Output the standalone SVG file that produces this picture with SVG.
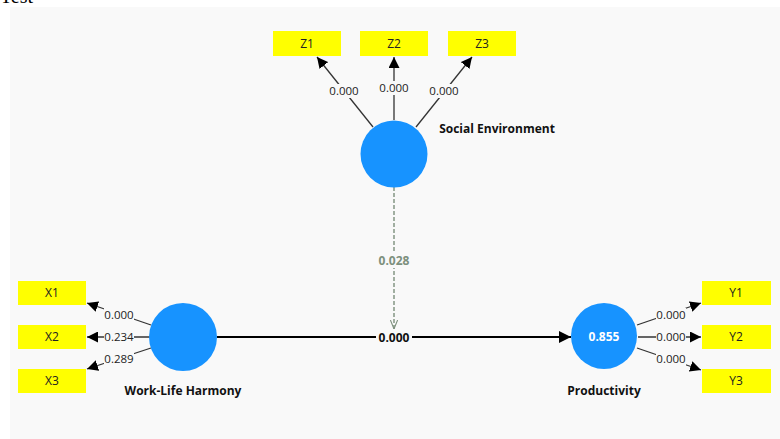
<svg xmlns="http://www.w3.org/2000/svg" width="780" height="439" viewBox="0 0 780 439">
<defs>
<marker id="ah" viewBox="0 0 10 10" refX="10" refY="5" markerWidth="11" markerHeight="11" markerUnits="userSpaceOnUse" orient="auto"><path d="M0,0 L10,5 L0,10 z" fill="#000"/></marker>
<marker id="ahl" viewBox="0 0 10 10" refX="10" refY="5" markerWidth="12" markerHeight="12" markerUnits="userSpaceOnUse" orient="auto"><path d="M0,0 L10,5 L0,10 z" fill="#000"/></marker>
<marker id="ahd" viewBox="0 0 10 10" refX="10" refY="5" markerWidth="9" markerHeight="9" markerUnits="userSpaceOnUse" orient="auto"><path d="M0,1 L10,5 L0,9" fill="none" stroke="#7d907d" stroke-width="1.2"/></marker>
</defs>
<style>
.ind rect{fill:#ffff00}
.ind text{font-family:"Open Sans","Noto Sans",sans-serif;font-size:12px;fill:#222;text-anchor:middle}
.lv circle{fill:#1793ff}
.lbl{font-family:"Open Sans","Noto Sans",sans-serif;font-size:12px;font-weight:bold;fill:#111;text-anchor:middle}
.w{font-family:"Open Sans","Noto Sans",sans-serif;font-size:11.5px;fill:#222;text-anchor:middle}
.ld{stroke:#333;stroke-width:1.3;fill:none;marker-end:url(#ah)}
.bg{fill:#f9f9f9}
</style>
<text x="0" y="3" font-family="Liberation Serif,serif" font-size="20" fill="#000">Test</text>
<rect x="10" y="7" width="770" height="432" fill="#f9f9f9"/>

<g id="connectors">
<line class="ld" x1="373" y1="127" x2="317" y2="57"/>
<line class="ld" x1="394" y1="120" x2="394" y2="57"/>
<line class="ld" x1="416" y1="127" x2="472" y2="57"/>
<line class="ld" x1="151" y1="325" x2="87" y2="303"/>
<line class="ld" x1="150" y1="337" x2="87" y2="337"/>
<line class="ld" x1="151" y1="348" x2="87" y2="369"/>
<line class="ld" x1="637" y1="325" x2="701" y2="303"/>
<line class="ld" x1="638" y1="337" x2="701" y2="337"/>
<line class="ld" x1="637" y1="348" x2="701" y2="370"/>
<line x1="217" y1="337" x2="571" y2="337" stroke="#000" stroke-width="1.8" marker-end="url(#ahl)"/>
<line x1="394" y1="187" x2="394" y2="329" stroke="#7d907d" stroke-width="1.4" stroke-dasharray="4,2" marker-end="url(#ahd)"/>
<rect class="bg" x="329" y="84" width="30" height="14"/><text class="w" x="344" y="95">0.000</text>
<rect class="bg" x="379" y="81" width="30" height="14"/><text class="w" x="394" y="92">0.000</text>
<rect class="bg" x="429" y="84" width="30" height="14"/><text class="w" x="444" y="95">0.000</text>
<rect class="bg" x="104" y="308" width="30" height="14"/><text class="w" x="119" y="319">0.000</text>
<rect class="bg" x="104" y="330" width="30" height="14"/><text class="w" x="119" y="341">0.234</text>
<rect class="bg" x="104" y="352" width="30" height="14"/><text class="w" x="119" y="363">0.289</text>
<rect class="bg" x="656" y="308" width="30" height="14"/><text class="w" x="671" y="319">0.000</text>
<rect class="bg" x="656" y="330" width="30" height="14"/><text class="w" x="671" y="341">0.000</text>
<rect class="bg" x="656" y="352" width="30" height="14"/><text class="w" x="671" y="363">0.000</text>
<rect class="bg" x="376" y="330" width="36" height="15"/><text class="lbl" x="394" y="341.5">0.000</text>
<rect class="bg" x="376" y="252" width="36" height="16"/><text class="lbl" x="394" y="264.5" style="fill:#7d907d">0.028</text>
</g>

<g id="Z1" class="ind"><rect x="273" y="31" width="68" height="25"/><text x="307" y="48">Z1</text></g>
<g id="Z2" class="ind"><rect x="360" y="31" width="68" height="25"/><text x="394" y="48">Z2</text></g>
<g id="Z3" class="ind"><rect x="448" y="31" width="68" height="25"/><text x="482" y="48">Z3</text></g>
<g id="X1" class="ind"><rect x="18" y="281" width="68" height="24"/><text x="52" y="297">X1</text></g>
<g id="X2" class="ind"><rect x="18" y="325" width="68" height="24"/><text x="52" y="341">X2</text></g>
<g id="X3" class="ind"><rect x="18" y="369" width="68" height="24"/><text x="52" y="385">X3</text></g>
<g id="Y1" class="ind"><rect x="702" y="281" width="69" height="24"/><text x="736" y="297">Y1</text></g>
<g id="Y2" class="ind"><rect x="702" y="325" width="69" height="24"/><text x="736" y="341">Y2</text></g>
<g id="Y3" class="ind"><rect x="702" y="369" width="69" height="24"/><text x="736" y="385">Y3</text></g>

<g id="SocialEnvironment" class="lv"><circle cx="394" cy="154" r="33.5"/><text class="lbl" x="497" y="133">Social Environment</text></g>
<g id="WorkLifeHarmony" class="lv"><circle cx="183" cy="337" r="34"/><text class="lbl" x="183" y="395">Work-Life Harmony</text></g>
<g id="Productivity" class="lv"><circle cx="604" cy="336" r="33"/><text class="lbl" x="604" y="341" style="fill:#fff">0.855</text><text class="lbl" x="604" y="395">Productivity</text></g>
</svg>
